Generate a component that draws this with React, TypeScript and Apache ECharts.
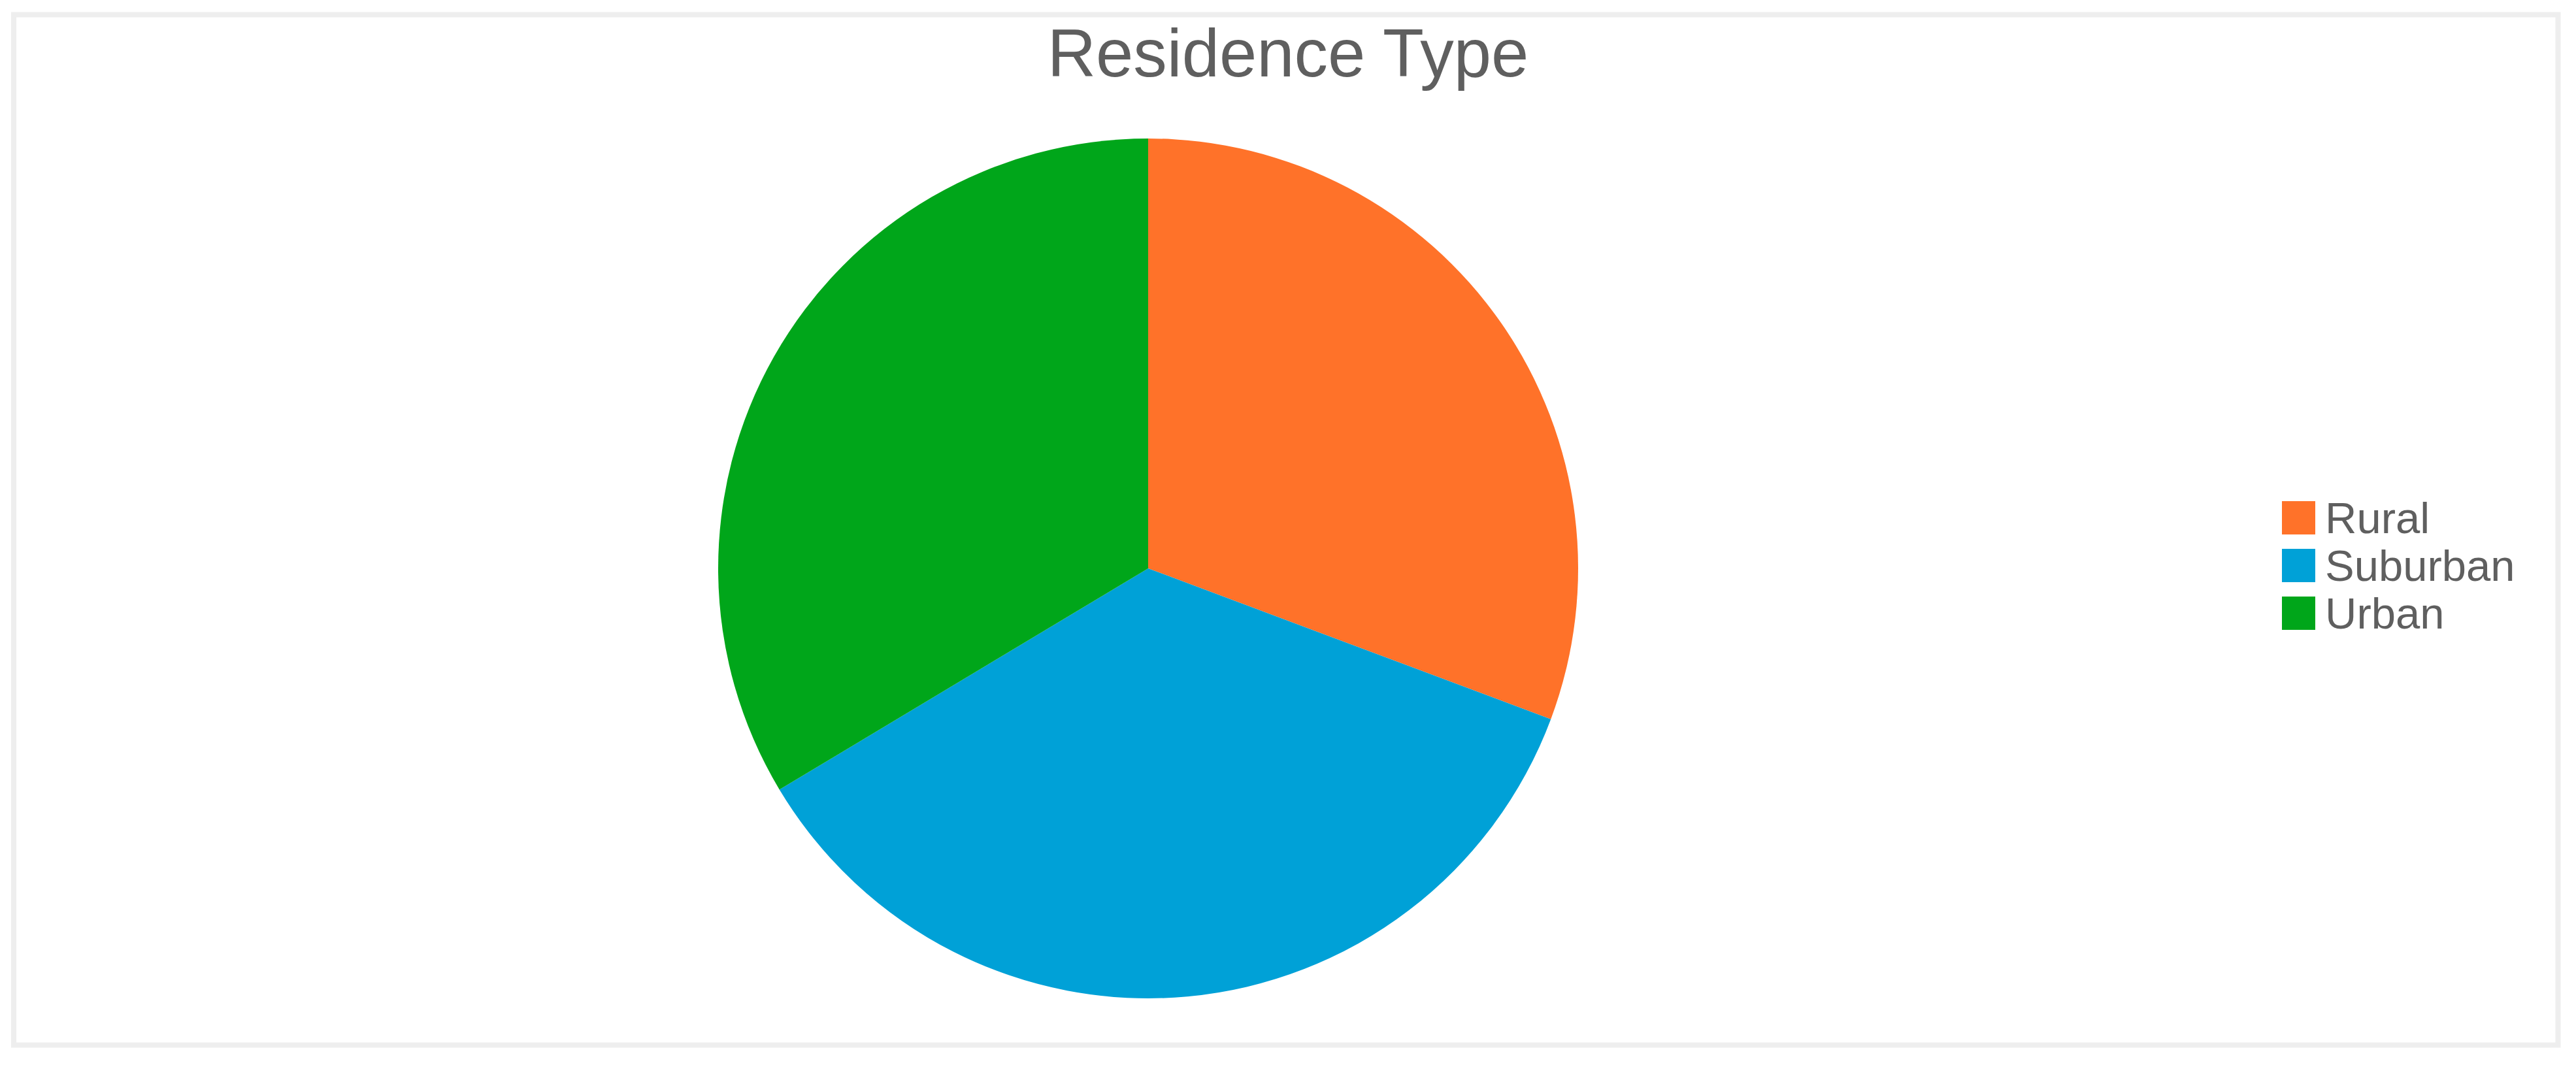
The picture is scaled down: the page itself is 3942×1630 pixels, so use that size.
import React, { useEffect, useRef } from "react";
import * as echarts from "echarts";

const titleText = "Residence Type";
const categories = ["Rural", "Suburban", "Urban"];
const values = [30.7, 35.7, 33.6];
const colors = ["#FF7229", "#00A1D7", "#00A61A"];

export default function App() {
  const ref = useRef<HTMLDivElement>(null);
  useEffect(() => {
    if (!ref.current) return;
    const chart = echarts.init(ref.current, null, { renderer: "svg" });
    chart.setOption({
      animation: false,
      backgroundColor: "#ffffff",
      title: {
        text: titleText,
        left: "center",
        top: 30,
        padding: 0,
        textStyle: {
          fontFamily: "Liberation Sans",
          fontSize: 103,
          fontWeight: "normal",
          color: "#5f5f5f",
        },
      },
      legend: {
        orient: "vertical",
        left: 3492,
        top: 759,
        padding: 0,
        itemWidth: 51,
        itemHeight: 51,
        itemGap: 6,
        icon: "rect",
        data: categories,
        textStyle: {
          fontFamily: "Liberation Sans",
          fontSize: 67,
          color: "#5f5f5f",
          padding: [0, 0, 0, 10],
        },
      },
      graphic: [
        {
          type: "rect",
          shape: { x: 21, y: 22.5, width: 3893.5, height: 1577 },
          style: { fill: "none", stroke: "#eeeeee", lineWidth: 8 },
          silent: true,
        },
      ],
      series: [
        {
          type: "pie",
          center: [1757, 870],
          radius: [0, 658],
          startAngle: 90,
          clockwise: true,
          label: { show: false },
          labelLine: { show: false },
          itemStyle: { borderWidth: 0 },
          emphasis: { disabled: true },
          data: categories.map((c, i) => ({
            name: c,
            value: values[i],
            itemStyle: { color: colors[i] },
          })),
        },
      ],
    });
    return () => chart.dispose();
  }, []);
  return (
    <div
      ref={ref}
      style={{ position: "fixed", left: 0, top: 0, width: 3942, height: 1630 }}
    />
  );
}
